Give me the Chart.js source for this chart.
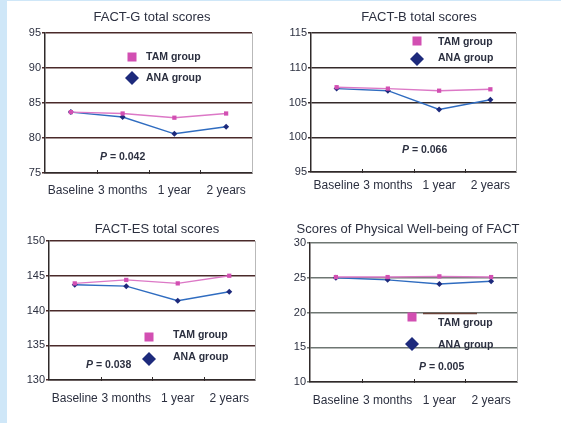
<!doctype html>
<html lang="en">
<head>
<meta charset="utf-8">
<title>FACT scores by treatment group</title>
<script src="https://cdn.jsdelivr.net/npm/chart.js@4.4.0/dist/chart.umd.min.js"></script>
<style>
  html, body { margin: 0; padding: 0; background: #fff; }
  #page { position: relative; width: 561px; height: 423px; overflow: hidden; background: #fff; }
  #page canvas { position: absolute; }
  .edge { position: absolute; background: #cfe7f8; }
</style>
</head>
<body>
<div id="page">
  <div class="edge" style="left:0;top:0;width:7px;height:423px"></div>
  <div class="edge" style="left:0;top:0;width:561px;height:1px"></div>
</div>

<script>
// time points shared by all four panels
const categories = ['Baseline', '3 months', '1 year', '2 years'];

// FACT-G total scores
const factG_TAM = [83.7, 83.5, 82.9, 83.5];
const factG_ANA = [83.7, 83.0, 80.6, 81.6];
const factG_range = [75, 95];
const factG_p = '0.042';

// FACT-B total scores
const factB_TAM = [107.2, 107.0, 106.7, 106.9];
const factB_ANA = [107.0, 106.7, 104.0, 105.4];
const factB_range = [95, 115];
const factB_p = '0.066';

// FACT-ES total scores
const factES_TAM = [143.9, 144.4, 143.9, 145.0];
const factES_ANA = [143.7, 143.5, 141.4, 142.7];
const factES_range = [130, 150];
const factES_p = '0.038';

// physical well-being subscale
const pwb_TAM = [25.1, 25.1, 25.2, 25.1];
const pwb_ANA = [25.0, 24.7, 24.1, 24.5];
const pwb_range = [10, 30];
const pwb_p = '0.005';

const yStep = 5;
const seriesNames = ['TAM group', 'ANA group'];

const COLORS = {
    tamLine: '#dc78c6',
    tamMark: '#d24fb2',
    anaLine: '#2f6cc0',
    anaMark: '#1d2a7c',
    text: '#2c3040',
    axis: '#302a2a',
    frame: '#b9b9b9',
};

const FONT = '"Liberation Sans", Arial, sans-serif';

// layout of each panel: box = canvas in page coords, area = plot area inside the canvas
const panels = [
    {
        title: 'FACT-G total scores', tam: factG_TAM, ana: factG_ANA, range: factG_range, p: factG_p,
        box: [0, 0, 280, 210], area: [45, 33, 252, 173], titlePos: [152, 17], labelPad: 10,
        grid: '#4a2a2a',
        legend: { x: 132, textX: 146, tamMark: 57, tamY: 57, anaMark: 78, anaY: 78 },
        pPos: [100, 157],
    },
    {
        title: 'FACT-B total scores', tam: factB_TAM, ana: factB_ANA, range: factB_range, p: factB_p,
        box: [280, 0, 281, 210], area: [31, 33, 236, 172], titlePos: [139, 17], labelPad: 6,
        grid: '#342a2a',
        legend: { x: 137, textX: 158, tamMark: 41, tamY: 42, anaMark: 59, anaY: 58 },
        pPos: [122, 150],
    },
    {
        title: 'FACT-ES total scores', tam: factES_TAM, ana: factES_ANA, range: factES_range, p: factES_p,
        box: [0, 210, 280, 213], area: [49, 31, 255, 170], titlePos: [157, 19], labelPad: 11,
        grid: '#4a2a2a',
        legend: { x: 149, textX: 173, tamMark: 127, tamY: 125, anaMark: 149, anaY: 147 },
        pPos: [86, 155],
    },
    {
        title: 'Scores of Physical Well-being of FACT', tam: pwb_TAM, ana: pwb_ANA, range: pwb_range, p: pwb_p,
        box: [280, 210, 281, 213], area: [30, 33, 237, 172], titlePos: [128, 19], labelPad: 11,
        grid: '#6e7672',
        legend: { x: 132, textX: 158, tamMark: 107, tamY: 113, anaMark: 134, anaY: 135, rule: [143, 197, 20] },
        pPos: [139, 157],
    },
];

// title, right frame, category tick marks, in-plot legend and p value
const panelDecor = {
    id: 'panelDecor',
    afterDatasetsDraw(chart, args, opts) {
        const ctx = chart.ctx;
        const a = chart.chartArea;
        const x = chart.scales.x;
        const y = chart.scales.y;
        const cfg = opts.cfg;
        ctx.save();

        // right side frame
        ctx.strokeStyle = COLORS.frame;
        ctx.lineWidth = 1;
        ctx.beginPath();
        ctx.moveTo(Math.round(a.right) + 0.5, a.top);
        ctx.lineTo(Math.round(a.right) + 0.5, a.bottom);
        ctx.stroke();

        // short marks between categories on the bottom axis
        ctx.strokeStyle = COLORS.axis;
        for (let i = 1; i < categories.length; i++) {
            const bx = Math.round((x.getPixelForValue(i - 1) + x.getPixelForValue(i)) / 2) + 0.5;
            ctx.beginPath();
            ctx.moveTo(bx, a.bottom - 3);
            ctx.lineTo(bx, a.bottom + 1);
            ctx.stroke();
        }

        // title
        ctx.fillStyle = COLORS.text;
        ctx.font = '13px ' + FONT;
        ctx.textAlign = 'center';
        ctx.textBaseline = 'middle';
        ctx.fillText(cfg.title, cfg.titlePos[0], cfg.titlePos[1]);

        // legend
        const lg = cfg.legend;
        if (lg.rule) {
            const ry = Math.round(y.getPixelForValue(lg.rule[2])) + 0.5;
            ctx.strokeStyle = '#6a4238';
            ctx.lineWidth = 1.5;
            ctx.beginPath();
            ctx.moveTo(lg.rule[0], ry);
            ctx.lineTo(lg.rule[1], ry);
            ctx.stroke();
        }
        ctx.fillStyle = COLORS.tamMark;
        ctx.fillRect(lg.x - 4.5, lg.tamMark - 4.5, 9, 9);
        ctx.fillStyle = COLORS.anaMark;
        ctx.beginPath();
        ctx.moveTo(lg.x, lg.anaMark - 7);
        ctx.lineTo(lg.x + 7, lg.anaMark);
        ctx.lineTo(lg.x, lg.anaMark + 7);
        ctx.lineTo(lg.x - 7, lg.anaMark);
        ctx.closePath();
        ctx.fill();

        ctx.fillStyle = COLORS.text;
        ctx.font = 'bold 10.5px ' + FONT;
        ctx.textAlign = 'left';
        ctx.fillText(seriesNames[0], lg.textX, lg.tamY);
        ctx.fillText(seriesNames[1], lg.textX, lg.anaY);

        // p value, italic P
        ctx.font = 'italic bold 10.5px ' + FONT;
        ctx.fillText('P', cfg.pPos[0], cfg.pPos[1]);
        const pw = ctx.measureText('P').width;
        ctx.font = 'bold 10.5px ' + FONT;
        ctx.fillText(' = ' + cfg.p, cfg.pPos[0] + pw, cfg.pPos[1]);

        ctx.restore();
    }
};

const page = document.getElementById('page');

panels.forEach((cfg) => {
    const [bx, by, bw, bh] = cfg.box;
    const [al, at, ar, ab] = cfg.area;
    const canvas = document.createElement('canvas');
    canvas.width = bw;
    canvas.height = bh;
    canvas.style.left = bx + 'px';
    canvas.style.top = by + 'px';
    canvas.style.width = bw + 'px';
    canvas.style.height = bh + 'px';
    page.appendChild(canvas);

    new Chart(canvas, {
        type: 'line',
        data: {
            labels: categories,
            datasets: [
                {
                    label: seriesNames[0],
                    data: cfg.tam,
                    borderColor: COLORS.tamLine,
                    borderWidth: 1.4,
                    pointStyle: 'rect',
                    pointRadius: 3,
                    pointBackgroundColor: COLORS.tamMark,
                    pointBorderColor: COLORS.tamMark,
                    pointBorderWidth: 0,
                    tension: 0,
                },
                {
                    label: seriesNames[1],
                    data: cfg.ana,
                    borderColor: COLORS.anaLine,
                    borderWidth: 1.4,
                    pointStyle: 'rectRot',
                    pointRadius: 3,
                    pointBackgroundColor: COLORS.anaMark,
                    pointBorderColor: COLORS.anaMark,
                    pointBorderWidth: 0,
                    tension: 0,
                },
            ],
        },
        options: {
            responsive: false,
            animation: false,
            devicePixelRatio: 1,
            layout: { padding: { left: 0, top: at, right: bw - ar, bottom: 0 } },
            plugins: {
                legend: { display: false },
                title: { display: false },
                tooltip: { enabled: false },
                panelDecor: { cfg: cfg },
            },
            scales: {
                x: {
                    type: 'category',
                    offset: true,
                    grid: { display: false, drawTicks: false },
                    border: { display: true, color: COLORS.axis, width: 1.5 },
                    ticks: {
                        color: COLORS.text,
                        font: { family: FONT, size: 12 },
                        padding: cfg.labelPad,
                        maxRotation: 0,
                        autoSkip: false,
                    },
                    afterFit: (s) => { s.height = bh - ab; },
                },
                y: {
                    min: cfg.range[0],
                    max: cfg.range[1],
                    grid: { color: cfg.grid, lineWidth: 1.5, drawTicks: true, tickLength: 3 },
                    border: { display: true, color: COLORS.axis, width: 1.5 },
                    ticks: {
                        stepSize: yStep,
                        color: COLORS.text,
                        font: { family: FONT, size: 11 },
                        padding: 1,
                    },
                    afterFit: (s) => { s.width = al; },
                },
            },
        },
        plugins: [panelDecor],
    });
});
</script>
</body>
</html>
